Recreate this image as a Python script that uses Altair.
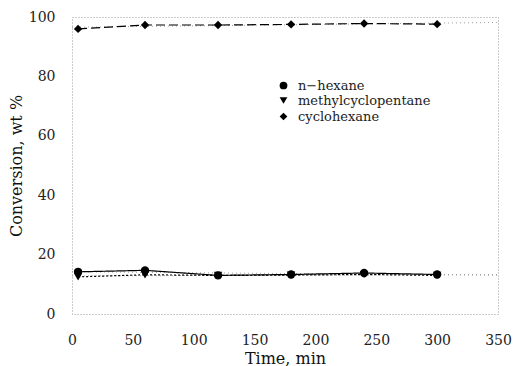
import altair as alt
import pandas as pd

times = [5, 60, 120, 180, 240, 300]
n_hexane = [14.2, 14.7, 13.0, 13.3, 13.8, 13.3]
methylcyclopentane = [12.5, 13.2, 13.0, 13.1, 13.3, 13.0]
cyclohexane = [96.0, 97.3, 97.3, 97.5, 97.8, 97.6]
series_names = ["n\u2212hexane", "methylcyclopentane", "cyclohexane"]

rows = []
for name, vals in zip(series_names, [n_hexane, methylcyclopentane, cyclohexane]):
    for t, v in zip(times, vals):
        rows.append({"Time": t, "Conv": v, "Series": name})
df = pd.DataFrame(rows)

FONT = "DejaVu Serif"

x = alt.X("Time:Q", scale=alt.Scale(domain=[0, 350], nice=False),
          axis=alt.Axis(values=[0, 50, 100, 150, 200, 250, 300, 350], title="Time, min",
                        labelFontSize=14, titleFontSize=16, titleFontWeight="normal",
                        labelPadding=19, titlePadding=3, ticks=False, domain=False,
                        grid=False, labelFont=FONT, titleFont=FONT, labelColor="#222",
                        titleColor="#111", labelFlush=False))
y = alt.Y("Conv:Q", scale=alt.Scale(domain=[0, 100], nice=False),
          axis=alt.Axis(values=[0, 20, 40, 60, 80, 100], title="Conversion, wt %",
                        labelFontSize=14, titleFontSize=16, titleFontWeight="normal",
                        labelPadding=17, titlePadding=4, ticks=False, domain=False,
                        grid=False, labelFont=FONT, titleFont=FONT, labelColor="#222",
                        titleColor="#111"))

base = alt.Chart(df)

lines = base.mark_line(color="black", strokeWidth=1.2).encode(
    x=x, y=y,
    detail="Series:N",
    strokeDash=alt.StrokeDash("Series:N", legend=None,
                              scale=alt.Scale(domain=series_names,
                                              range=[[1, 0], [2, 2], [9, 4]])),
)

fits = base.transform_regression("Time", "Conv", groupby=["Series"], extent=[0, 350]).mark_line(
    color="#888", strokeWidth=0.8, strokeDash=[1, 3]
).encode(x="Time:Q", y="Conv:Q", detail="Series:N")

points = base.mark_point(filled=True, color="black", opacity=1, size=70).encode(
    x=x, y=y,
    shape=alt.Shape("Series:N",
                    scale=alt.Scale(domain=series_names,
                                    range=["circle", "triangle-down", "diamond"]),
                    legend=alt.Legend(title=None, orient="none", legendX=205, legendY=62,
                                      labelFont=FONT, labelFontSize=13, labelColor="#222",
                                      symbolFillColor="black", symbolStrokeColor="black",
                                      symbolType="circle",
                                      symbolSize=60, rowPadding=1, labelOffset=8)),
)

chart = alt.layer(fits, lines, points).resolve_legend(
    shape="independent", strokeDash="independent"
).properties(
    width=426, height=297,
    autosize=alt.AutoSizeParams(type="none"),
    padding={"left": 72, "top": 17, "right": 20, "bottom": 52},
    background="white",
).configure_view(stroke="#999", strokeDash=[1, 2], strokeWidth=1)

chart.save("out.html", embed_options={"renderer": "svg", "actions": False})
